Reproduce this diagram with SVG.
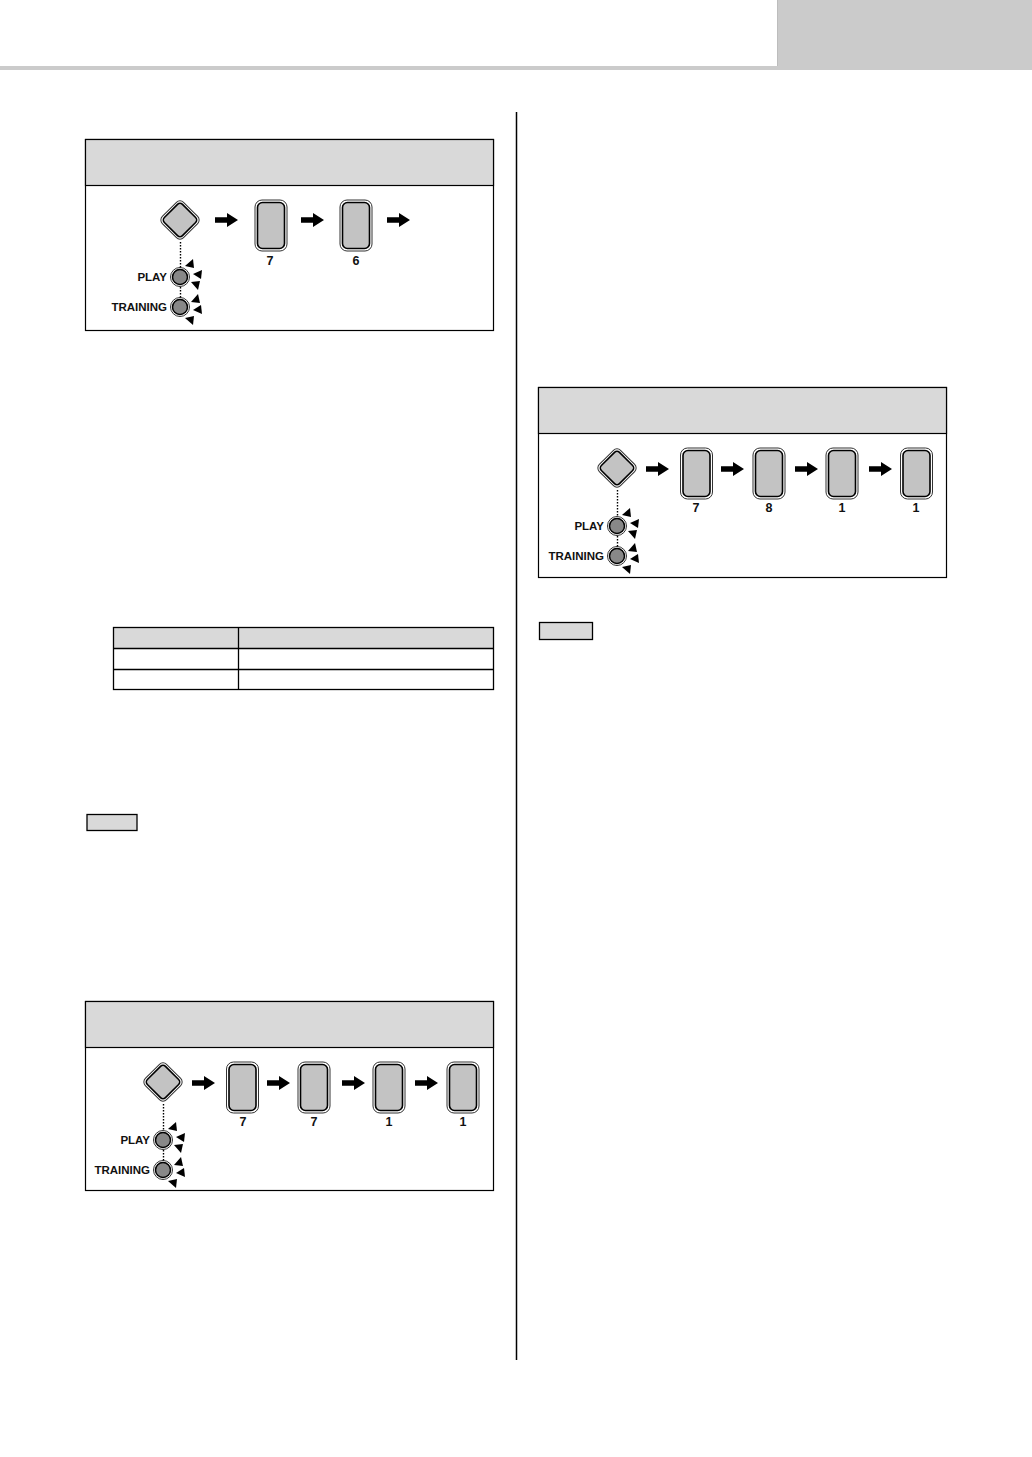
<svg xmlns="http://www.w3.org/2000/svg" xmlns:xlink="http://www.w3.org/1999/xlink" width="1032" height="1457" viewBox="0 0 1032 1457">
<style>
.panel{fill:#ffffff;stroke:#000;stroke-width:1.2}
.phead{fill:#d9d9d9;stroke:#000;stroke-width:1.2}
.lbl{font-family:"Liberation Sans",Arial,sans-serif;font-weight:bold;font-size:11.5px;fill:#111;text-anchor:end}
.num{font-family:"Liberation Sans",Arial,sans-serif;font-weight:bold;font-size:12.5px;fill:#111;text-anchor:middle}
.dot{stroke:#000;stroke-width:1.4;stroke-dasharray:1.4 1.6;fill:none}
.tbl{fill:none;stroke:#000;stroke-width:1.3}
.note{fill:#d9d9d9;stroke:#000;stroke-width:1.3}
</style>
<defs>
<g id="card">
<rect x="-16" y="-25.5" width="32" height="51" rx="7" fill="#fff" stroke="#333" stroke-width="1"/>
<rect x="-13.5" y="-23" width="27" height="46" rx="5" fill="#c3c3c3" stroke="#000" stroke-width="1.6"/>
</g>
<g id="diamond">
<rect x="-15" y="-15" width="30" height="30" rx="5" transform="rotate(45)" fill="#fff" stroke="#333" stroke-width="1"/>
<rect x="-12.8" y="-12.8" width="25.6" height="25.6" rx="3.5" transform="rotate(45)" fill="#c3c3c3" stroke="#000" stroke-width="1.6"/>
</g>
<g id="led">
<circle r="9.5" fill="#fff" stroke="#333" stroke-width="1"/>
<circle r="7.5" fill="#888" stroke="#000" stroke-width="1.5"/>
</g>
<g id="arrow">
<polygon points="0,-2.8 12,-2.8 12,-7 23,0 12,7 12,2.8 0,2.8" fill="#000"/>
</g>
<g id="flash">
<polygon points="5,-11 14,-9 13,-18" fill="#000"/>
<polygon points="13,-3 22,-7 21,2" fill="#000"/>
<polygon points="11,5 20,4 18,13" fill="#000"/>
</g>
</defs>

<g id="page-header">
<rect x="0" y="66" width="1032" height="4" fill="#cbcbcb"/>
<rect x="777" y="0" width="255" height="68" fill="#cbcbcb"/>
<line x1="777.5" y1="0" x2="777.5" y2="66" stroke="#bdbdbd" stroke-width="1"/>
</g>
<line id="divider" x1="516.5" y1="112" x2="516.5" y2="1360" stroke="#000" stroke-width="1.5"/>

<!-- Panel 1 -->
<g id="panel1">
<rect class="panel" x="85.5" y="139.5" width="408" height="191"/>
<rect class="phead" x="85.5" y="139.5" width="408" height="46"/>
</g>
<g id="p1-diamond"><use xlink:href="#diamond" x="180" y="220"/></g>
<g id="p1-card1"><use xlink:href="#card" x="271" y="225.5"/><text class="num" x="270" y="265">7</text></g>
<g id="p1-card2"><use xlink:href="#card" x="356" y="225.5"/><text class="num" x="356" y="265">6</text></g>
<g id="p1-play"><use xlink:href="#led" x="180" y="277"/><use xlink:href="#flash" transform="translate(180,277)"/><text class="lbl" x="167" y="281">PLAY</text></g>
<g id="p1-training"><use xlink:href="#led" x="180" y="307"/><use xlink:href="#flash" transform="translate(180,307) scale(1,-1)"/><text class="lbl" x="167" y="311">TRAINING</text></g>
<g id="p1-connectors">
<use xlink:href="#arrow" x="215" y="220"/>
<use xlink:href="#arrow" x="301" y="220"/>
<use xlink:href="#arrow" x="387" y="220"/>
<line class="dot" x1="180.5" y1="242" x2="180.5" y2="268"/>
<line class="dot" x1="180.5" y1="287" x2="180.5" y2="298"/>
</g>

<!-- Table -->
<g id="table">
<rect x="113" y="627" width="380" height="21" fill="#d9d9d9"/>
<rect class="tbl" x="113.5" y="627.5" width="380" height="62"/>
<line class="tbl" x1="113" y1="648.5" x2="494" y2="648.5"/>
<line class="tbl" x1="113" y1="669.5" x2="494" y2="669.5"/>
<line class="tbl" x1="238.5" y1="627" x2="238.5" y2="690"/>
</g>

<g id="note1"><rect class="note" x="87" y="814.5" width="50" height="16"/></g>
<g id="note2"><rect class="note" x="539.5" y="622.5" width="53" height="17"/></g>

<!-- Panel 2 -->
<g id="panel2">
<rect class="panel" x="538.5" y="387.5" width="408" height="190"/>
<rect class="phead" x="538.5" y="387.5" width="408" height="46"/>
</g>
<g id="p2-diamond"><use xlink:href="#diamond" x="617" y="468"/></g>
<g id="p2-card1"><use xlink:href="#card" x="696.5" y="473.5"/><text class="num" x="696" y="512">7</text></g>
<g id="p2-card2"><use xlink:href="#card" x="769" y="473.5"/><text class="num" x="769" y="512">8</text></g>
<g id="p2-card3"><use xlink:href="#card" x="842" y="473.5"/><text class="num" x="842" y="512">1</text></g>
<g id="p2-card4"><use xlink:href="#card" x="916.5" y="473.5"/><text class="num" x="916" y="512">1</text></g>
<g id="p2-play"><use xlink:href="#led" x="617" y="526"/><use xlink:href="#flash" transform="translate(617,526)"/><text class="lbl" x="604" y="530">PLAY</text></g>
<g id="p2-training"><use xlink:href="#led" x="617" y="556"/><use xlink:href="#flash" transform="translate(617,556) scale(1,-1)"/><text class="lbl" x="604" y="560">TRAINING</text></g>
<g id="p2-connectors">
<use xlink:href="#arrow" x="646" y="469"/>
<use xlink:href="#arrow" x="721" y="469"/>
<use xlink:href="#arrow" x="795" y="469"/>
<use xlink:href="#arrow" x="869" y="469"/>
<line class="dot" x1="617.5" y1="490" x2="617.5" y2="517"/>
<line class="dot" x1="617.5" y1="536" x2="617.5" y2="547"/>
</g>

<!-- Panel 3 -->
<g id="panel3">
<rect class="panel" x="85.5" y="1001.5" width="408" height="189"/>
<rect class="phead" x="85.5" y="1001.5" width="408" height="46"/>
</g>
<g id="p3-diamond"><use xlink:href="#diamond" x="163" y="1082"/></g>
<g id="p3-card1"><use xlink:href="#card" x="242.5" y="1087.5"/><text class="num" x="243" y="1126">7</text></g>
<g id="p3-card2"><use xlink:href="#card" x="314" y="1087.5"/><text class="num" x="314" y="1126">7</text></g>
<g id="p3-card3"><use xlink:href="#card" x="389" y="1087.5"/><text class="num" x="389" y="1126">1</text></g>
<g id="p3-card4"><use xlink:href="#card" x="463" y="1087.5"/><text class="num" x="463" y="1126">1</text></g>
<g id="p3-play"><use xlink:href="#led" x="163" y="1140"/><use xlink:href="#flash" transform="translate(163,1140)"/><text class="lbl" x="150" y="1144">PLAY</text></g>
<g id="p3-training"><use xlink:href="#led" x="163" y="1170"/><use xlink:href="#flash" transform="translate(163,1170) scale(1,-1)"/><text class="lbl" x="150" y="1174">TRAINING</text></g>
<g id="p3-connectors">
<use xlink:href="#arrow" x="192" y="1083"/>
<use xlink:href="#arrow" x="267" y="1083"/>
<use xlink:href="#arrow" x="342" y="1083"/>
<use xlink:href="#arrow" x="415" y="1083"/>
<line class="dot" x1="163.5" y1="1104" x2="163.5" y2="1131"/>
<line class="dot" x1="163.5" y1="1150" x2="163.5" y2="1161"/>
</g>
</svg>
